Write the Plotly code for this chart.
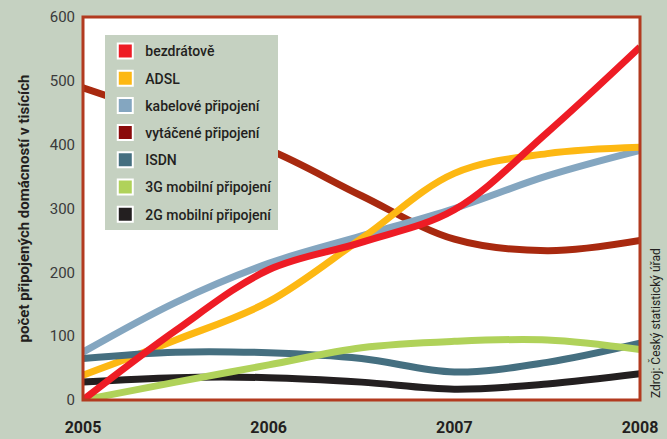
import plotly.graph_objects as go

periods = [2005, 2005.5, 2006, 2006.5, 2007, 2007.5, 2008]
series_names = ["bezdrátově", "ADSL", "kabelové připojení", "vytáčené připojení",
                "ISDN", "3G mobilní připojení", "2G mobilní připojení"]
bezdratove = [0, 109, 204, 247, 298, 419, 553]
adsl = [39, 94, 154, 253, 355, 386, 396]
kabelove = [75, 153, 214, 257, 300, 351, 391]
vytacene = [489, 440, 392, 320, 252, 234, 250]
isdn = [65, 75, 74, 65, 44, 59, 89]
mobil_3g = [0, 28, 55, 82, 92, 94, 79]
mobil_2g = [28, 35, 35, 28, 17, 25, 41]
values = [bezdratove, adsl, kabelove, vytacene, isdn, mobil_3g, mobil_2g]
line_colors = ["#ee1c25", "#fdb813", "#84a6c0", "#a8290f", "#456f80", "#b0d25a", "#231f20"]
swatch_colors = ["#ee1c25", "#fdb813", "#84a6c0", "#8a0a0a", "#456f80", "#b0d25a", "#231f20"]
x_ticks = [2005, 2006, 2007, 2008]
y_ticks = [0, 100, 200, 300, 400, 500, 600]

BG = "#c5d1c1"
FONT = "Roboto, sans-serif"

fig = go.Figure()
order = [3, 2, 1, 6, 4, 5, 0]
for i in order:
    fig.add_trace(go.Scatter(
        x=periods, y=values[i], mode="lines", name=series_names[i],
        line=dict(color=line_colors[i], width=7, shape="spline", smoothing=1.0),
        showlegend=False, hoverinfo="skip"))
for i, n in enumerate(series_names):
    fig.add_trace(go.Scatter(
        x=[None], y=[None], mode="markers", name=n, legendgroup=f"g{i}",
        marker=dict(symbol="square", size=15, color=swatch_colors[i],
                    line=dict(color="white", width=2)),
        showlegend=True))

fig.update_layout(
    width=667, height=439,
    margin=dict(l=83, r=27, t=17, b=39, autoexpand=False),
    paper_bgcolor=BG, plot_bgcolor="white",
    font=dict(family=FONT, color="#231f20"),
    showlegend=True,
    legend=dict(x=0.04, y=0.952, xanchor="left", yanchor="top",
                bgcolor=BG, borderwidth=0, tracegroupgap=6, itemwidth=30,
                font=dict(size=14, family=FONT, weight=500, color="#231f20"),
                itemsizing="trace"),
    xaxis=dict(range=[2005, 2008], tickvals=x_ticks, ticktext=[str(t) for t in x_ticks],
               showgrid=False, zeroline=False, ticks="", ticklabelstandoff=16,
               automargin=False,
               tickfont=dict(size=16, family=FONT, weight="bold", color="#231f20")),
    yaxis=dict(range=[0, 600], tickvals=y_ticks, showgrid=False, zeroline=False,
               ticks="", ticklabelstandoff=7, automargin=False,
               tickfont=dict(size=15, family=FONT, color="#3a3a3a"),
               title=dict(text="počet připojených domácností v tisících", standoff=16,
                          font=dict(size=15, family=FONT, weight="bold", color="#231f20"))),
    shapes=[dict(type="rect", xref="paper", yref="paper", x0=0, x1=1, y0=0, y1=1,
                 line=dict(color="#b23a1f", width=3), layer="above")],
    annotations=[dict(text="Zdroj: Český statistický úřad", xref="paper", yref="paper",
                      x=1.027, y=0.0, xanchor="center", yanchor="bottom", textangle=-90,
                      showarrow=False, font=dict(size=12, family=FONT, color="#231f20"))],
)
fig.write_html("out.html", config={"displayModeBar": False},
               post_script="document.body.style.margin='0';document.body.style.overflow='hidden';")
